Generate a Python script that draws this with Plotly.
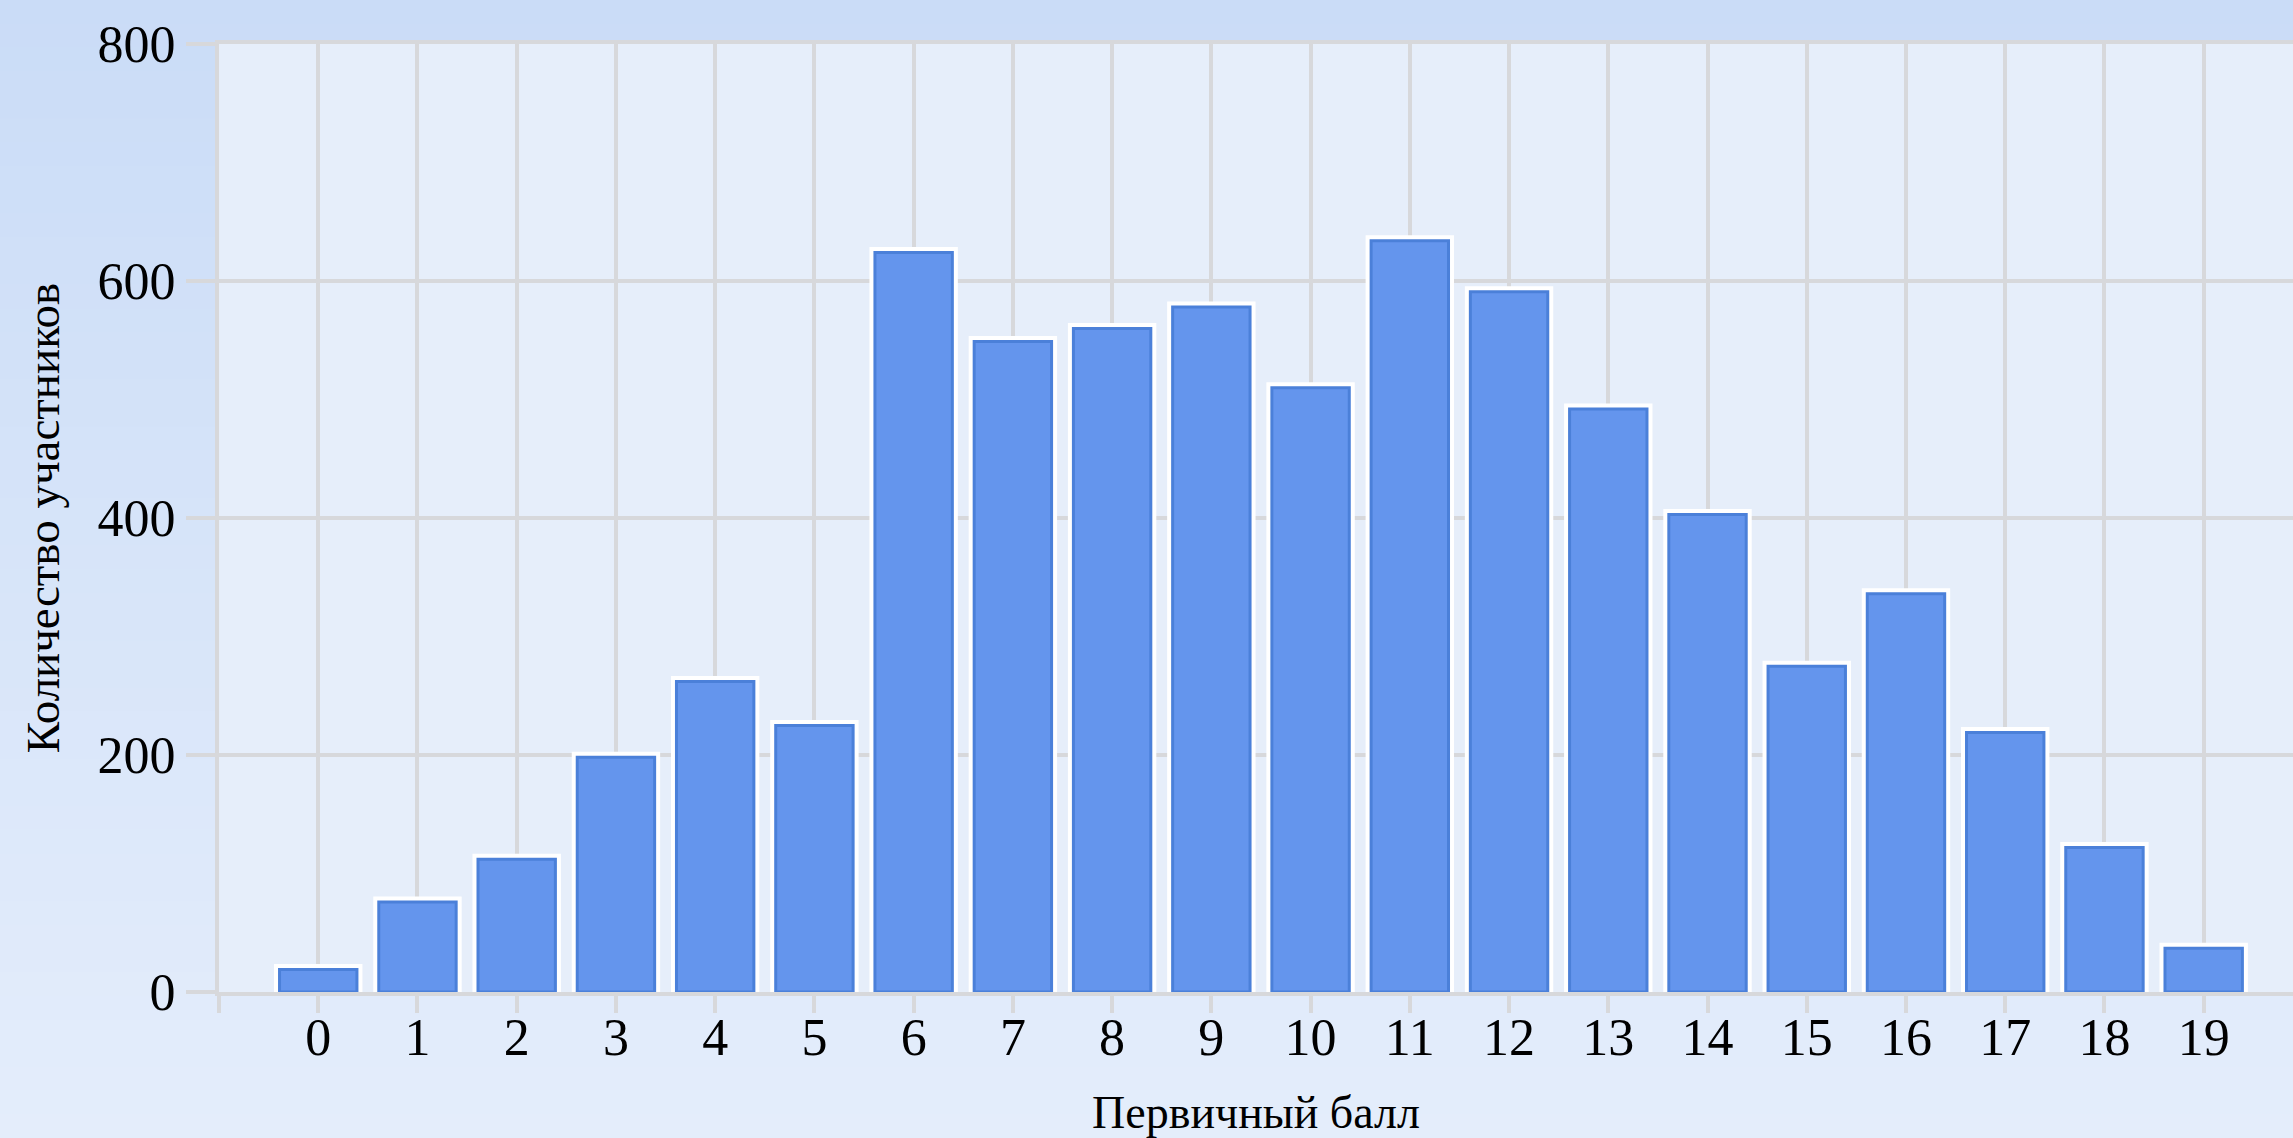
import plotly.graph_objects as go

# data
scores = list(range(20))
participants = [19, 76, 112, 198, 262, 225, 624, 549, 560, 578,
                510, 634, 591, 492, 403, 275, 336, 219, 122, 37]
y_ticks = [0, 200, 400, 600, 800]

W, H = 2293, 1138
M = dict(l=219, r=0, t=44, b=146)

BAR = "#6495ED"
BAR_EDGE = "#4B80D9"
GRID = "#D7D8DB"
FONT = "Liberation Serif"


def gradient_bands(top="#CADCF7", bottom="#E4EDFB", n=48):
    """Vertical background gradient, drawn as thin paper rectangles."""
    def rgb(h):
        return [int(h[i:i + 2], 16) for i in (1, 3, 5)]
    c0, c1 = rgb(top), rgb(bottom)
    pw = W - M["l"] - M["r"]
    ph = H - M["t"] - M["b"]
    x0, x1 = -M["l"] / pw, 1 + M["r"] / pw
    y_top, y_bot = 1 + M["t"] / ph, -M["b"] / ph
    shapes = []
    for i in range(n):
        f = i / (n - 1)
        col = "rgb(%d,%d,%d)" % tuple(round(a + (b - a) * f) for a, b in zip(c0, c1))
        ya = y_top + (y_bot - y_top) * i / n
        yb = y_top + (y_bot - y_top) * (i + 1) / n
        shapes.append(dict(type="rect", xref="paper", yref="paper", layer="below",
                           x0=x0, x1=x1, y0=yb - 0.002, y1=ya,
                           fillcolor=col, line=dict(width=0)))
    return shapes


fig = go.Figure()

# white halo behind each bar
fig.add_trace(go.Bar(
    x=scores, y=participants, width=0.78,
    marker=dict(color="white", line=dict(color="white", width=11)),
    hoverinfo="skip", showlegend=False,
))
fig.add_trace(go.Bar(
    x=scores, y=participants, width=0.78,
    marker=dict(color=BAR, line=dict(color=BAR_EDGE, width=3)),
    showlegend=False,
))

shapes = gradient_bands()
shapes.append(dict(type="rect", xref="x domain", yref="y domain", layer="below",
                   x0=0, x1=1, y0=0, y1=1, fillcolor="#E6EEFA", line=dict(width=0)))

fig.update_layout(
    width=W, height=H,
    margin=M,
    barmode="overlay",
    paper_bgcolor="#D8E5F9",
    plot_bgcolor="#E6EEFA",
    font=dict(family=FONT, color="black", size=52),
    shapes=shapes,
    xaxis=dict(
        range=[-1, 19.9],
        tickvals=[-1] + scores,
        ticktext=[""] + [str(s) for s in scores],
        showgrid=True, gridcolor=GRID, gridwidth=4,
        showline=True, linecolor=GRID, linewidth=4, mirror=True,
        ticks="outside", ticklen=17, tickwidth=4, tickcolor=GRID,
        tickfont=dict(size=52), ticklabelstandoff=-20,
        zeroline=False,
        title=dict(text="Первичный балл", font=dict(size=46), standoff=33),
    ),
    yaxis=dict(
        range=[0, 800],
        tickvals=y_ticks,
        showgrid=True, gridcolor=GRID, gridwidth=4,
        showline=True, linecolor=GRID, linewidth=4,
        ticks="outside", ticklen=29, tickwidth=4, tickcolor=GRID,
        tickfont=dict(size=52),
        zeroline=False,
        title=dict(text="Количество участников", font=dict(size=47), standoff=24),
    ),
)

fig.write_html("out.html", config={"displayModeBar": False},
               post_script="document.body.style.margin='0';")
